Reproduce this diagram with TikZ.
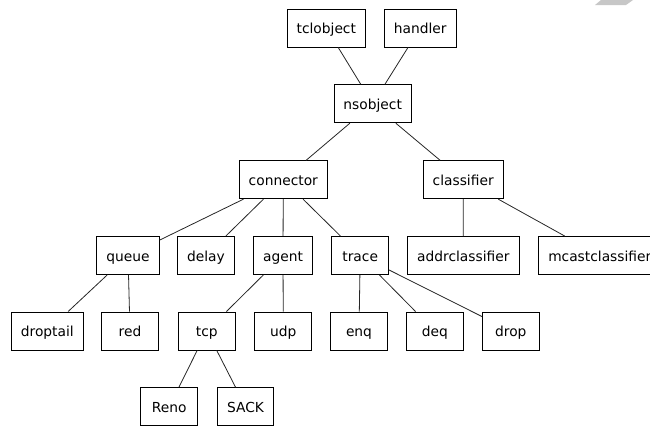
\documentclass[tikz,border=0pt]{standalone}
\usepackage{fontspec}
\setmainfont{DejaVu Sans}
\begin{document}
\begin{tikzpicture}[x=1pt,y=-1pt,
  cls/.style={draw=black,line width=0.9pt,fill=white,minimum height=38pt,minimum width=56.8pt,inner xsep=9.5pt,text height=13.6pt,text depth=2.6pt,font=\fontsize{13.8pt}{16pt}\selectfont},
  link/.style={draw=black!85,line width=0.8pt}]
\useasboundingbox (0,0) rectangle (650,426);
\fill[black!22] (601,0) -- (633,0) -- (626,5) -- (595,5) -- cycle;
\node[cls] (tcl) at (326.3,28) {tclobject};
\node[cls] (hdl) at (420.2,28) {handler};
\node[cls] (ns) at (372.7,103.8) {nsobject};
\node[cls] (con) at (283.3,179.7) {connector};
\node[cls] (cla) at (463.2,179.7) {classifier};
\node[cls] (que) at (128,255.5) {queue};
\node[cls] (del) at (206,255.5) {delay};
\node[cls] (age) at (283,255.5) {agent};
\node[cls] (tra) at (360.2,255.5) {trace};
\node[cls] (adr) at (463.3,255.5) {addrclassifier};
\node[cls,anchor=west] (mca) at (538.3,255.5) {mcastclassifier};
\node[cls] (dtl) at (47.3,331) {droptail};
\node[cls] (red) at (130,331) {red};
\node[cls] (tcp) at (206.8,331) {tcp};
\node[cls] (udp) at (283.3,331) {udp};
\node[cls] (enq) at (359,331) {enq};
\node[cls] (deq) at (434.8,331) {deq};
\node[cls] (drp) at (510.8,331) {drop};
\node[cls] (ren) at (169.3,406.7) {Reno};
\node[cls] (sck) at (245.5,406.7) {SACK};
\foreach \a/\b in {tcl/ns,hdl/ns,ns/con,ns/cla,con/que,con/del,con/age,con/tra,cla/adr,cla/mca,que/dtl,que/red,age/tcp,age/udp,tra/enq,tra/deq,tra/drp,tcp/ren,tcp/sck}
  \draw[link] (\a) -- (\b);
\end{tikzpicture}
\end{document}
